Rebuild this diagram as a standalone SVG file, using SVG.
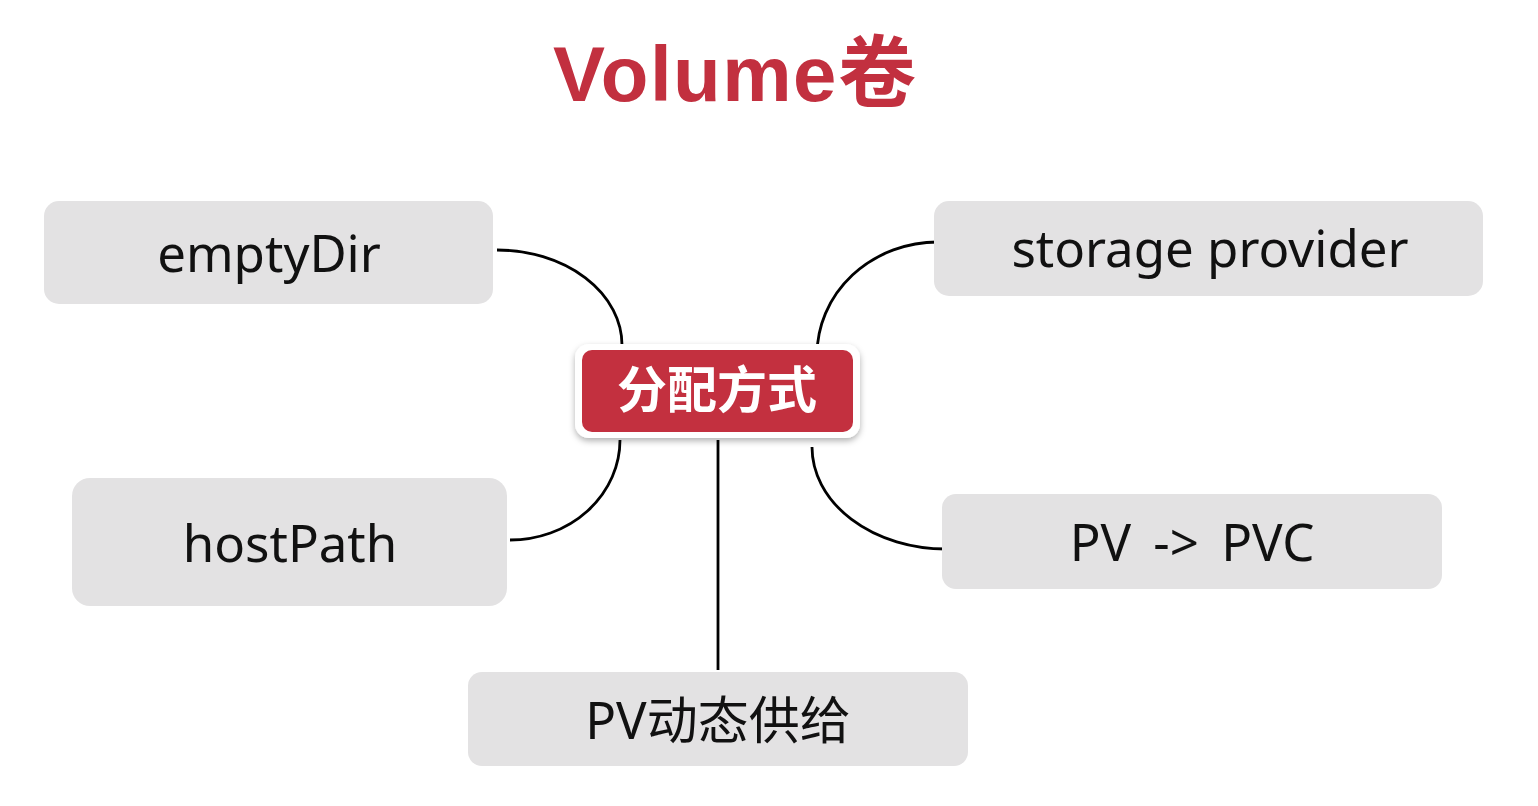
<svg xmlns="http://www.w3.org/2000/svg" width="1538" height="806" viewBox="0 0 1538 806">
  <defs>
    <filter id="shadow" x="-10%" y="-20%" width="120%" height="150%">
      <feDropShadow dx="0" dy="3" stdDeviation="3" flood-color="#000" flood-opacity="0.3"/>
    </filter>
  </defs>
  <style>
    .box { fill: #e3e2e3; }
    .lbl { font-family: "Noto Sans", "Noto Sans CJK SC", sans-serif; font-size: 51px; fill: #111; text-anchor: middle; }
    .conn { fill: none; stroke: #000; stroke-width: 2.8; }
  </style>
  <rect width="1538" height="806" fill="#ffffff"/>
  <text id="title" x="553" y="101" font-family="'Liberation Sans', 'Noto Sans CJK SC', sans-serif" font-size="78" font-weight="bold" fill="#c2303f" letter-spacing="1.5">Volume卷</text>

  <g id="connectors">
    <path class="conn" d="M497,250 A125,95 0 0 1 622,345"/>
    <path class="conn" d="M938,242 A121,113 0 0 0 817,355"/>
    <path class="conn" d="M620,440 A110,100 0 0 1 510,540"/>
    <path class="conn" d="M812,447 A134,102 0 0 0 946,549"/>
    <path class="conn" d="M718,440 L718,670"/>
  </g>

  <g id="node-center">
    <rect x="575" y="344" width="285" height="94" rx="14" fill="#ffffff" filter="url(#shadow)"/>
    <rect x="582" y="350" width="271" height="82" rx="10" fill="#c3303f"/>
    <text x="717" y="408" font-family="'Noto Sans CJK SC', sans-serif" font-size="50" font-weight="bold" fill="#ffffff" text-anchor="middle">分配方式</text>
  </g>

  <g id="node-emptydir">
    <rect class="box" x="44" y="201" width="449" height="103" rx="15"/>
    <text class="lbl" x="269" y="272">emptyDir</text>
  </g>

  <g id="node-storage">
    <rect class="box" x="934" y="201" width="549" height="95" rx="15"/>
    <text class="lbl" x="1210" y="267">storage provider</text>
  </g>

  <g id="node-hostpath">
    <rect class="box" x="72" y="478" width="435" height="128" rx="18"/>
    <text class="lbl" x="290" y="562">hostPath</text>
  </g>

  <g id="node-pvpvc">
    <rect class="box" x="942" y="494" width="500" height="95" rx="14"/>
    <text class="lbl" x="1192" y="561" word-spacing="9">PV -&gt; PVC</text>
  </g>

  <g id="node-dynamic">
    <rect class="box" x="468" y="672" width="500" height="94" rx="14"/>
    <text class="lbl" x="718" y="739">PV动态供给</text>
  </g>
</svg>
